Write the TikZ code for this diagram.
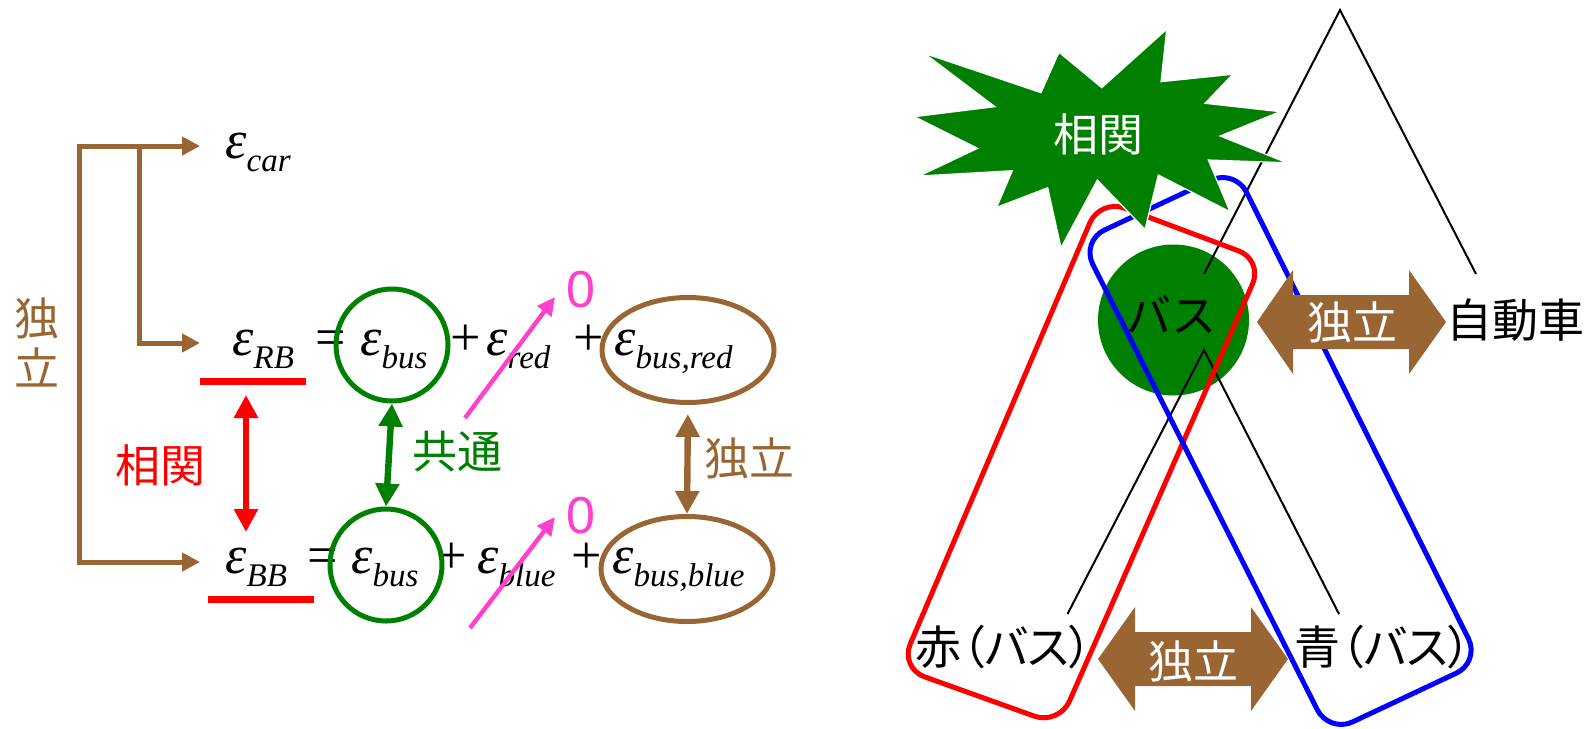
\documentclass[tikz,border=0pt]{standalone}
\usepackage{fontspec}
\usetikzlibrary{arrows.meta,shapes.geometric}
\newfontfamily\jp{Noto Sans CJK JP}
\newfontfamily\jpp[CharacterWidth=AlternateProportional]{Noto Sans CJK JP}
\newfontfamily\tnr{Liberation Serif}
\newfontfamily\ars{Liberation Sans}
\definecolor{brn}{RGB}{153,102,51}
\definecolor{grn}{RGB}{0,128,0}
\definecolor{pnk}{RGB}{255,64,204}
\definecolor{rd}{RGB}{255,0,0}
\definecolor{bl}{RGB}{0,0,255}
\newcommand\epsx[1]{{\tnr\fontsize{27}{27}\selectfont\itshape ε\raisebox{-6.5pt}{\fontsize{16.5}{16.5}\selectfont #1}}}
\tikzset{
  mt/.style={anchor=base west,inner sep=0pt},
  sy/.style={anchor=base west,inner sep=0pt,text height=11pt,text depth=0pt,font=\tnr\fontsize{27}{27}\selectfont},
  jl/.style={inner sep=0pt,font=\jp\fontsize{22.5}{25}\selectfont},
  jlp/.style={inner sep=0pt,font=\jpp\fontsize{23}{25}\selectfont},
  gc/.style={circle,draw=grn,line width=2.5pt,minimum size=56pt,inner sep=0pt},
  be/.style={ellipse,draw=brn,line width=2.5pt,minimum width=86pt,minimum height=52.5pt,inner sep=0pt},
  ul/.style={fill=rd,minimum width=53pt,minimum height=3.5pt,inner sep=0pt},
  zr/.style={inner sep=0pt,text=pnk,font=\ars\fontsize{26}{26}\selectfont},
  brk/.style={draw=brn,line width=2.5pt},
  dar/.style={line width=3.2pt,{Triangle[length=11.5pt,width=11.5pt]}-{Triangle[length=11.5pt,width=11.5pt]}},
  par/.style={draw=pnk,line width=2.2pt,-{Triangle[length=9pt,width=8.5pt]}},
  tree/.style={draw=black,line width=1pt},
  loop/.style={line width=2.5pt,rounded corners=13pt},
  bigarr/.style={fill=brn}
}
\begin{document}
\begin{tikzpicture}[x=0.5pt,y=-0.5pt]
\useasboundingbox (0,0) rectangle (1593,728);
% ---------- left part ----------
\coordinate (bT) at (79,146);
\coordinate (bB) at (79,562);
\coordinate (bJ) at (139,146);
\coordinate (bJ2) at (139,343);
\coordinate (tc) at (200,146);
\coordinate (tr) at (200,343);
\coordinate (tb) at (200,562);
\draw[brk,{Triangle[length=9pt,width=9pt]}-{Triangle[length=9pt,width=9pt]}] (tc) -- (bT) -- (bB) -- (tb);
\draw[brk,-{Triangle[length=9pt,width=9pt]}] (bJ) -- (bJ2) -- (tr);
\node[jl,text=brn,align=center] (ind1) at (36.5,342) {独\\立};

\node[mt] (ecar) at (225,158) {\epsx{car}};

\node[mt] (eRB) at (232,355) {\epsx{RB}};
\node[sy] (eq1) at (315,355) {=};
\node[mt] (ebus1) at (360,355) {\epsx{bus}};
\node[sy] (pl1) at (450,355) {+};
\node[mt] (ered) at (486,355) {\epsx{red}};
\node[sy] (pl2) at (573,355) {+};
\node[mt] (ebr) at (614,355) {\epsx{bus,red}};

\node[mt] (eBB) at (225,573) {\epsx{BB}};
\node[sy] (eq2) at (307,573) {=};
\node[mt] (ebus2) at (351,573) {\epsx{bus}};
\node[sy] (pl3) at (436,573) {+};
\node[mt] (eblue) at (477,573) {\epsx{blue}};
\node[sy] (pl4) at (571,573) {+};
\node[mt] (ebb) at (612,573) {\epsx{bus,blue}};

\node[ul] (uRB) at (253,381) {};
\node[ul] (uBB) at (261,599) {};
\node[gc] (cRB) at (392,345) {};
\node[gc] (cBB) at (386,565) {};
\node[be] (oRB) at (688,350) {};
\node[be] (oBB) at (687,569) {};

\coordinate (ra1) at (246,395);
\coordinate (ra2) at (246,532);
\draw[dar,draw=rd,fill=rd] (ra1) -- (ra2);
\draw[dar,draw=grn,fill=grn] (cRB.south) -- (cBB.north);
\draw[dar,draw=brn,fill=brn,shorten <=4.5pt] (oRB.south) -- (oBB.north);
\node[jl,text=rd] (lcorr) at (160,465) {相関};
\node[jl,text=grn] (com) at (457,452) {共通};
\node[jl,text=brn] (ind2) at (749,458) {独立};

\node[zr] (z1) at (580.5,290) {0};
\node[zr] (z2) at (580.5,516) {0};
\coordinate (pa1) at (465,418);
\coordinate (pa2) at (555,297);
\coordinate (pb1) at (470,628);
\coordinate (pb2) at (555,517);
\draw[par] (pa1) -- (pa2);
\draw[par] (pb1) -- (pb2);

% ---------- right part ----------
\node[circle,fill=grn,minimum size=75.5pt,inner sep=0pt] (busc) at (1173.5,320) {};
\coordinate (apex) at (1340,10);
\coordinate (busTop) at (1204,274);
\coordinate (carTop) at (1476,274);
\coordinate (busBot) at (1204,350);
\coordinate (redTop) at (1067.5,614);
\coordinate (blueTop) at (1339,614);
\draw[tree] (busTop) -- (apex) -- (carTop);
\draw[tree] (redTop) -- (busBot) -- (blueTop);

\draw[loop,draw=rd] (1181.5,229.5) -- (1263,260) -- (1059,725) -- (900,668) -- (1100,199) -- cycle;
\draw[loop,draw=bl] (1158,205) -- (1235,169) -- (1480,662) -- (1329,733) -- (1081,241) -- cycle;

\fill[grn,draw=white,line width=0.6pt] (914.3,116.7) -- (995,106.7) -- (924.3,53.3) -- (1041,92.7) -- (1059,52.3) -- (1101.7,87.7) -- (1166.7,29.3) -- (1161,81.7) -- (1232.7,74.3) -- (1205,103.3) -- (1280,111.7) -- (1220,136) -- (1286.7,162.7) -- (1208.3,160) -- (1230,211.7) -- (1158.3,175) -- (1145,229.3) -- (1097.3,180) -- (1061,247.7) -- (1047.7,187.7) -- (996.7,207.3) -- (1012.3,170.7) -- (919.3,176) -- (977.7,148.3) -- cycle;

\fill[bigarr] (1257,322) -- (1293,270) -- (1293,295) -- (1409,295) -- (1409,270) -- (1446,322) -- (1409,374) -- (1409,349) -- (1293,349) -- (1293,374) -- cycle;
\fill[bigarr] (1098,659) -- (1135,607) -- (1135,632) -- (1251,632) -- (1251,607) -- (1288,659) -- (1251,711) -- (1251,686) -- (1135,686) -- (1135,711) -- cycle;

\node[jl,text=white] (corr) at (1098,134) {相関};
\node[jl] (busl) at (1171,315) {バス};
\node[jl,text=white] (indT) at (1352,322) {独立};
\node[jl,text=white] (indB) at (1193,661) {独立};
\node[jl,font=\jp\fontsize{23}{25}\selectfont] (carl) at (1515,320) {自動車};
\node[jlp] (redl) at (1004,647) {赤（バス）};
\node[jlp] (bluel) at (1383,647) {青（バス）};
\end{tikzpicture}
\end{document}
